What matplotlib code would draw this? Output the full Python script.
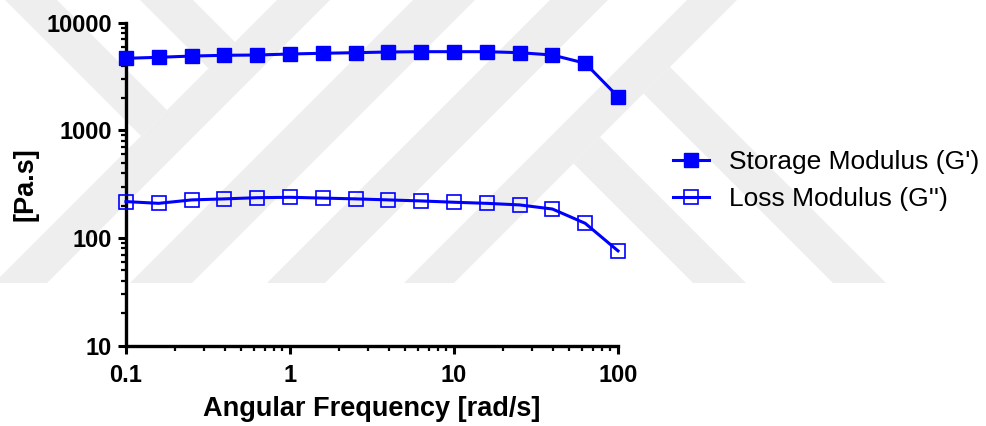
import matplotlib
matplotlib.use("Agg")
import matplotlib.pyplot as plt
from matplotlib.patches import Polygon
from matplotlib.ticker import FixedLocator, LogLocator, NullFormatter

# angular frequency sweep, 5 points per decade
freq = [0.1, 0.158, 0.251, 0.398, 0.631, 1.0, 1.585, 2.512, 3.981, 6.31,
        10.0, 15.85, 25.12, 39.81, 63.1, 100.0]
storage = [4670, 4770, 4900, 4980, 5010, 5120, 5200, 5265, 5345, 5380,
           5380, 5380, 5265, 5010, 4200, 2055]
loss = [218, 210, 226, 231, 237, 239, 235, 231, 226, 221,
        215, 210, 203, 186, 137, 76]

x_ticks = [0.1, 1, 10, 100]
x_labels = ["0.1", "1", "10", "100"]
y_ticks = [10, 100, 1000, 10000]
y_labels = ["10", "100", "1000", "10000"]

BLUE = "#0000ff"
WM = "#eeeeee"
W, H = 987, 426

fig = plt.figure(figsize=(W / 100, H / 100), dpi=100)

# faint chevron watermark behind the plot (pixel coordinates)
bg = fig.add_axes([0, 0, 1, 1], zorder=0)
bg.set_xlim(0, W)
bg.set_ylim(H, 0)
bg.axis("off")
BOT = 283


def slash_band(a, b, y0=0):
    # band between lines x + y = a and x + y = b
    return [(a - y0, y0), (b - y0, y0), (b - BOT, BOT), (a - BOT, BOT)]


def back_band(c, d, e):
    # band between x - y = c and x - y = d, starting on line x + y = e
    yd = (e - d) / 2
    yc = (e - c) / 2
    return [(d + yd, yd), (d + BOT, BOT), (c + BOT, BOT), (c + yc, yc)]


def back_to_line(c, d, e):
    # band from the top edge down to the line x + y = e
    yd = (e - d) / 2
    yc = (e - c) / 2
    return [(c, 0), (d, 0), (d + yd, yd), (c + yc, yc)]


shapes = [
    slash_band(687, 737),
    slash_band(550, 608),
    slash_band(413, 475),
    slash_band(277, 330),
    back_band(550, 603, 737),
    back_band(410, 463, 737),
    back_to_line(5, 57, 277),
    back_to_line(140, 193, 277),
]
for pts in shapes:
    bg.add_patch(Polygon(pts, closed=True, facecolor=WM, edgecolor="none"))

ax = fig.add_axes([126 / W, 1 - 345.7 / H, (618 - 126) / W, (345.7 - 22.7) / H], zorder=1)
ax.set_facecolor("none")

ax.plot(freq, storage, color=BLUE, lw=2.2, marker="s", ms=10,
        mfc=BLUE, mec=BLUE, label="Storage Modulus (G')", clip_on=False, zorder=3)
ax.plot(freq, loss, color=BLUE, lw=2.2, marker="s", ms=9.5,
        mfc="none", mec=BLUE, mew=1.2, label="Loss Modulus (G'')", clip_on=False, zorder=3)

ax.set_xscale("log")
ax.set_yscale("log")
ax.set_xlim(0.1, 100)
ax.set_ylim(10, 10000)

ax.xaxis.set_major_locator(FixedLocator(x_ticks))
ax.set_xticklabels(x_labels)
ax.yaxis.set_major_locator(FixedLocator(y_ticks))
ax.set_yticklabels(y_labels)
for axis in (ax.xaxis, ax.yaxis):
    axis.set_minor_locator(LogLocator(base=10, subs=range(2, 10)))
    axis.set_minor_formatter(NullFormatter())

for side in ("top", "right"):
    ax.spines[side].set_visible(False)
for side in ("left", "bottom"):
    ax.spines[side].set_linewidth(2.4)

ax.tick_params(which="major", direction="out", length=6, width=2.2, pad=4)
ax.tick_params(which="minor", direction="out", length=3.5, width=1.6)
ax.tick_params(axis="x", which="major", pad=7)
for lab in ax.get_xticklabels() + ax.get_yticklabels():
    lab.set_fontfamily("Liberation Sans")
    lab.set_fontweight("bold")
    lab.set_fontsize(17)

ax.set_xlabel("Angular Frequency [rad/s]", fontfamily="Liberation Sans",
              fontweight="bold", fontsize=19.5, labelpad=7)
ax.set_ylabel("[Pa.s]", fontfamily="Liberation Sans",
              fontweight="bold", fontsize=19.5, labelpad=5.5)

fig.legend(loc="center left", bbox_to_anchor=(673 / W, 1 - 180.5 / H),
           frameon=False, borderpad=0, borderaxespad=0,
           handlelength=1.36, handletextpad=0.75, labelspacing=0.5,
           prop={"family": "Liberation Sans", "size": 19})

fig.savefig("out.png", dpi=100)
